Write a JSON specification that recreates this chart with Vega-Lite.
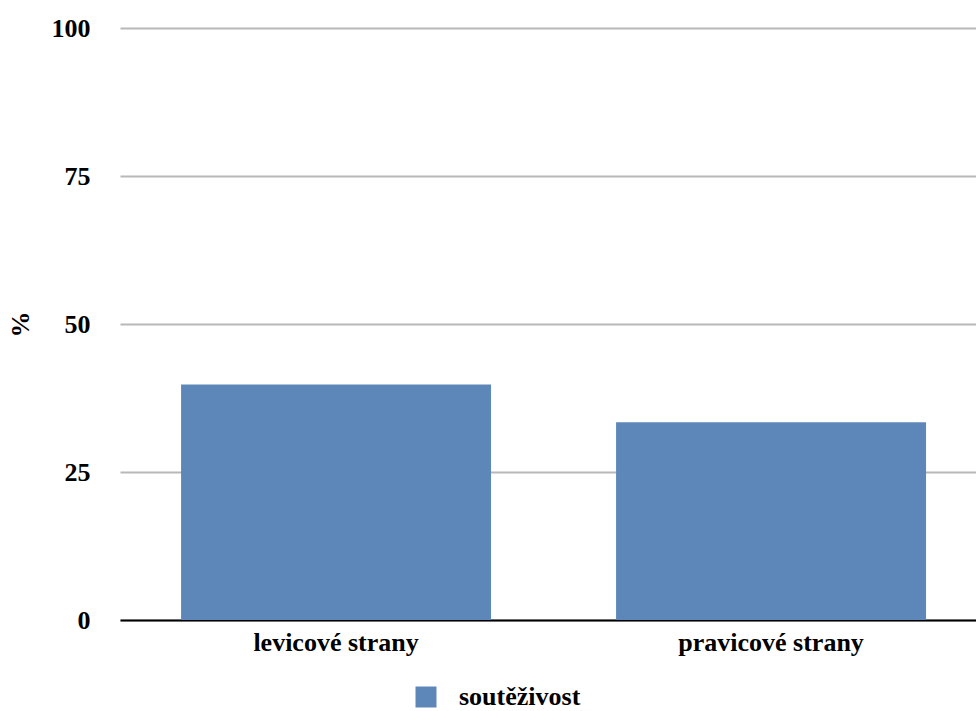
{
  "$schema": "https://vega.github.io/schema/vega-lite/v6.json",
  "width": 856,
  "height": 592,
  "autosize": {"type": "none"},
  "padding": {"left": 120, "top": 28, "right": 0, "bottom": 91},
  "background": "white",
  "config": {
    "font": "serif",
    "view": {"stroke": null}
  },
  "data": {
    "values": [
      {"strana": "levicové strany", "serie": "soutěživost", "hodnota": 39.8},
      {"strana": "pravicové strany", "serie": "soutěživost", "hodnota": 33.4}
    ]
  },
  "mark": {"type": "bar"},
  "encoding": {
    "x": {
      "field": "strana",
      "type": "nominal",
      "sort": null,
      "scale": {"paddingInner": 0.2874, "paddingOuter": 0.1276, "align": 0.55},
      "axis": {
        "title": null,
        "labelAngle": 0,
        "labelFont": "serif",
        "labelFontSize": 26,
        "labelFontWeight": "bold",
        "labelColor": "#000000",
        "labelPadding": 9,
        "labelLimit": 500,
        "ticks": false,
        "domainColor": "#000000",
        "domainWidth": 2,
        "grid": false
      }
    },
    "y": {
      "field": "hodnota",
      "type": "quantitative",
      "scale": {"domain": [0, 100], "nice": false},
      "axis": {
        "title": "%",
        "values": [0, 25, 50, 75, 100],
        "titleFont": "serif",
        "titleFontSize": 26,
        "titleFontWeight": "bold",
        "titleColor": "#000000",
        "titleX": -100,
        "titleY": 296,
        "titleAngle": -90,
        "titleAlign": "center",
        "titleBaseline": "middle",
        "labelFont": "serif",
        "labelFontSize": 26,
        "labelFontWeight": "bold",
        "labelColor": "#000000",
        "labelPadding": 30,
        "ticks": false,
        "domain": false,
        "grid": true,
        "gridColor": "#b8b8b8",
        "gridWidth": 2
      }
    },
    "color": {
      "field": "serie",
      "type": "nominal",
      "scale": {"range": ["#5e87b9"]},
      "legend": {
        "title": null,
        "orient": "none",
        "legendX": 293,
        "legendY": 656,
        "symbolType": "square",
        "symbolSize": 441,
        "symbolStrokeWidth": 0,
        "symbolOpacity": 1,
        "labelFont": "serif",
        "labelFontSize": 26,
        "labelFontWeight": "bold",
        "labelColor": "#000000",
        "labelOffset": 20,
        "labelLimit": 400
      }
    }
  }
}
